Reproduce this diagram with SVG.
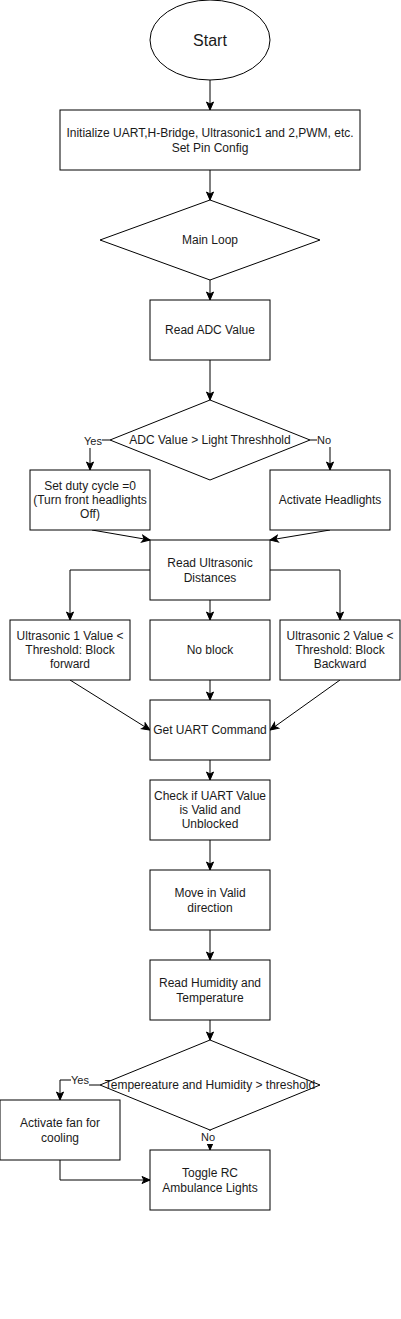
<svg xmlns="http://www.w3.org/2000/svg" width="401" height="1319" viewBox="0 0 401 1319">
<style>
.n{fill:#fff;stroke:#000;stroke-width:1}
.t{font-family:"Liberation Sans",Arial,sans-serif;font-size:12px;fill:#1a1a1a;text-anchor:middle}
.s{font-size:16px}
.l{font-family:"Liberation Sans",Arial,sans-serif;font-size:11px;fill:#1a1a1a;text-anchor:middle}
.e{fill:none;stroke:#000;stroke-width:1}
.a{marker-end:url(#ah)}
</style>
<defs>
<marker id="ah" markerUnits="userSpaceOnUse" markerWidth="10" markerHeight="10" viewBox="0 0 10 10" refX="9" refY="5" orient="auto">
<path d="M1,1.5 L9,5 L1,8.5 L3,5 z" fill="#000" stroke="#000" stroke-width="1"/>
</marker>
</defs>
<rect width="401" height="1319" fill="#fff"/>
<g id="connectors">
<path class="e a" d="M210,80 V110"/>
<path class="e a" d="M210,170 V200"/>
<path class="e a" d="M210,280 V300"/>
<path class="e a" d="M210,360 V400"/>
<path class="e a" d="M110,440 H90 V470"/>
<path class="e a" d="M310,440 H330 V470"/>
<path class="e a" d="M92,530 L150,540"/>
<path class="e a" d="M330,530 L270,540"/>
<path class="e a" d="M150,570 H70 V620"/>
<path class="e a" d="M210,600 V620"/>
<path class="e a" d="M270,570 H340 V620"/>
<path class="e a" d="M70,680 L150,730"/>
<path class="e a" d="M210,680 V700"/>
<path class="e a" d="M340,680 L270,730"/>
<path class="e a" d="M210,760 V780"/>
<path class="e a" d="M210,840 V870"/>
<path class="e a" d="M210,930 V960"/>
<path class="e a" d="M210,1020 V1040"/>
<path class="e" d="M100,1085 H88"/>
<path class="e a" d="M72,1080 H60 V1100"/>
<path class="e a" d="M210,1130 V1150"/>
<path class="e a" d="M60,1160 V1180 H150"/>
<rect x="84" y="434" width="18" height="14" fill="#fff"/>
<text class="l" x="93" y="445">Yes</text>
<rect x="317" y="433" width="14" height="14" fill="#fff"/>
<text class="l" x="324" y="444">No</text>
<rect x="71" y="1074" width="18" height="13" fill="#fff"/>
<text class="l" x="80" y="1084">Yes</text>
<rect x="201" y="1131" width="15" height="13" fill="#fff"/>
<text class="l" x="208" y="1141">No</text>
</g>
<g id="start"><ellipse class="n" cx="210" cy="40" rx="60" ry="40"/><text class="t s" x="210" y="46">Start</text></g>
<g id="init"><rect class="n" x="60" y="110" width="300" height="60"/><text class="t" x="210" y="137">Initialize UART,H-Bridge, Ultrasonic1 and 2,PWM, etc.</text><text class="t" x="210" y="151.5">Set Pin Config</text></g>
<g id="mainloop"><polygon class="n" points="210,200 320,240 210,280 100,240"/><text class="t" x="210" y="244">Main Loop</text></g>
<g id="readadc"><rect class="n" x="150" y="300" width="120" height="60"/><text class="t" x="210" y="334">Read ADC Value</text></g>
<g id="adccheck"><polygon class="n" points="210,400 310,440 210,480 110,440"/><text class="t" x="210" y="444">ADC Value &gt; Light Threshhold</text></g>
<g id="dutyzero"><rect class="n" x="30" y="470" width="120" height="60"/><text class="t" x="90" y="489.6">Set duty cycle =0</text><text class="t" x="90" y="504">(Turn front headlights</text><text class="t" x="90" y="518.4">Off)</text></g>
<g id="headlights"><rect class="n" x="270" y="470" width="120" height="60"/><text class="t" x="330" y="504">Activate Headlights</text></g>
<g id="readultra"><rect class="n" x="150" y="540" width="120" height="60"/><text class="t" x="210" y="567">Read Ultrasonic</text><text class="t" x="210" y="581.5">Distances</text></g>
<g id="ultra1"><rect class="n" x="10" y="620" width="120" height="60"/><text class="t" x="70" y="639.6">Ultrasonic 1 Value &lt;</text><text class="t" x="70" y="654">Threshold: Block</text><text class="t" x="70" y="668.4">forward</text></g>
<g id="noblock"><rect class="n" x="150" y="620" width="120" height="60"/><text class="t" x="210" y="654">No block</text></g>
<g id="ultra2"><rect class="n" x="280" y="620" width="120" height="60"/><text class="t" x="340" y="639.6">Ultrasonic 2 Value &lt;</text><text class="t" x="340" y="654">Threshold: Block</text><text class="t" x="340" y="668.4">Backward</text></g>
<g id="getuart"><rect class="n" x="150" y="700" width="120" height="60"/><text class="t" x="210" y="734">Get UART Command</text></g>
<g id="checkuart"><rect class="n" x="150" y="780" width="120" height="60"/><text class="t" x="210" y="799.6">Check if UART Value</text><text class="t" x="210" y="814">is Valid and</text><text class="t" x="210" y="828.4">Unblocked</text></g>
<g id="move"><rect class="n" x="150" y="870" width="120" height="60"/><text class="t" x="210" y="897">Move in Valid</text><text class="t" x="210" y="911.5">direction</text></g>
<g id="readhum"><rect class="n" x="150" y="960" width="120" height="60"/><text class="t" x="210" y="987">Read Humidity and</text><text class="t" x="210" y="1001.5">Temperature</text></g>
<g id="tempcheck"><polygon class="n" points="210,1040 320,1085 210,1130 100,1085"/><text class="t" x="210" y="1089">Tempereature and Humidity &gt; threshold</text></g>
<g id="fan"><rect class="n" x="0" y="1100" width="120" height="60"/><text class="t" x="60" y="1127">Activate fan for</text><text class="t" x="60" y="1141.5">cooling</text></g>
<g id="toggle"><rect class="n" x="150" y="1150" width="120" height="60"/><text class="t" x="210" y="1177">Toggle RC</text><text class="t" x="210" y="1191.5">Ambulance Lights</text></g>
</svg>
